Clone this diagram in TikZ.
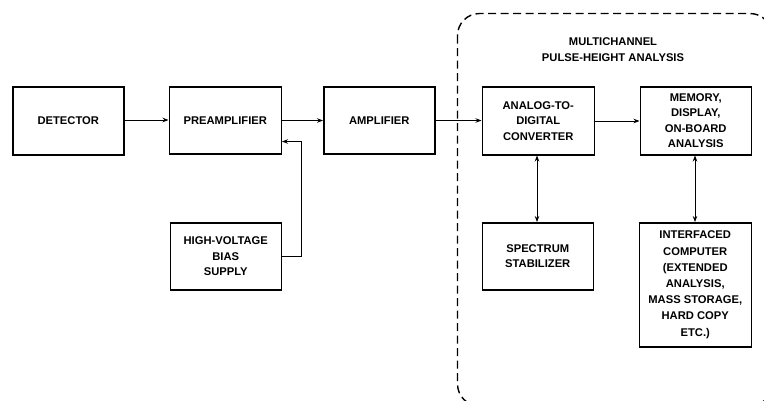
\documentclass[tikz,border=0pt]{standalone}
\usepackage{fontspec}
\setmainfont{Liberation Sans}
\usetikzlibrary{arrows.meta}
\begin{document}
\begin{tikzpicture}[x=1pt,y=-1pt,
  blk/.style={draw, line width=1.5pt, inner sep=0pt, anchor=north west, align=center, font=\bfseries\fontsize{11.2}{15.5}\selectfont},
  conn/.style={line width=0.8pt, -{Stealth[length=6pt,width=4.5pt]}},
  biconn/.style={line width=0.8pt, {Stealth[length=6pt,width=4.5pt]}-{Stealth[length=6pt,width=4.5pt]}},
  lbl/.style={font=\bfseries\fontsize{11.2}{16}\selectfont, align=center}]
\useasboundingbox (0,0) rectangle (764,400);
\begin{scope}
\clip (0,0) rectangle (764,400);
\draw[line width=1.4pt, dash pattern=on 8pt off 4.5pt, rounded corners=22pt] (457.5,13.5) rectangle (772,406);
\end{scope}
\node[lbl] (title) at (613,49.5) {MULTICHANNEL\\PULSE-HEIGHT ANALYSIS};
\node[blk, minimum width=111pt, minimum height=68pt] (det) at (12,86) {DETECTOR};
\node[blk, minimum width=112pt, minimum height=67pt] (pre) at (168.5,86) {PREAMPLIFIER};
\node[blk, minimum width=111pt, minimum height=67pt] (amp) at (323,86) {AMPLIFIER};
\node[blk, minimum width=112pt, minimum height=68pt] (adc) at (481.5,86) {ANALOG-TO-\\DIGITAL\\CONVERTER};
\node[blk, minimum width=111pt, minimum height=68pt] (mem) at (639.5,86) {MEMORY,\\DISPLAY,\\ON-BOARD\\ANALYSIS};
\node[blk, minimum width=111pt, minimum height=67pt] (hv) at (169.5,222) {HIGH-VOLTAGE\\BIAS\\SUPPLY};
\node[blk, minimum width=111pt, minimum height=67pt] (stab) at (481.5,222) {SPECTRUM\\STABILIZER};
\node[blk, minimum width=112pt, minimum height=124pt, font=\bfseries\fontsize{11.2}{16.2}\selectfont] (comp) at (638.5,222) {INTERFACED\\COMPUTER\\(EXTENDED\\ANALYSIS,\\MASS STORAGE,\\HARD COPY\\ETC.)};
\coordinate (hvc) at (301.5,256.5);
\draw[conn] (det.east |- 0,120) -- (pre.west |- 0,120);
\draw[conn] (pre.east |- 0,120.5) -- (amp.west |- 0,120.5);
\draw[conn] (amp.east |- 0,120.5) -- (adc.west |- 0,120.5);
\draw[conn] (adc.east |- 0,121) -- (mem.west |- 0,121);
\draw[conn] (hv.east |- hvc) -- (hvc) -- (hvc |- 0,141.5) -- (pre.east |- 0,141.5);
\draw[biconn] (adc.south -| 537,0) -- (stab.north -| 537,0);
\draw[biconn] (mem.south -| 695,0) -- (comp.north -| 695,0);
\end{tikzpicture}
\end{document}
